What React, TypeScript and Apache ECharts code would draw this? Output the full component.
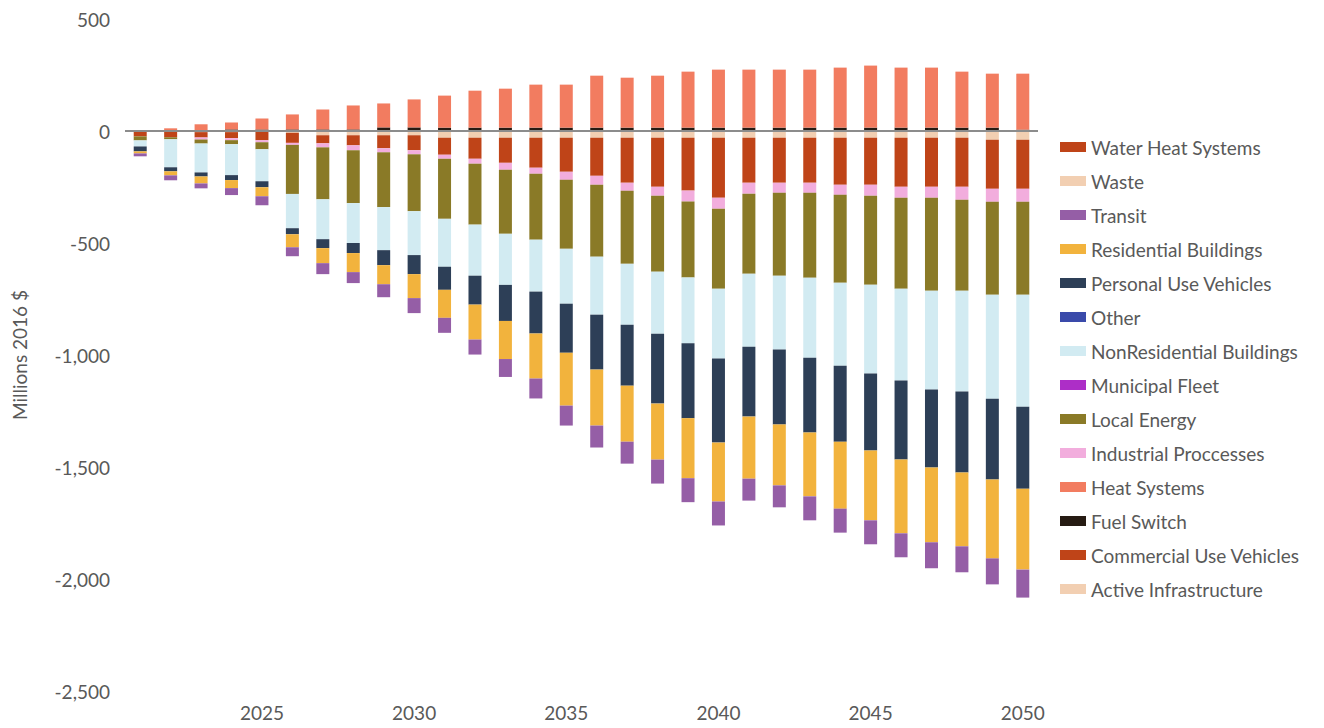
import React, { useEffect, useRef } from "react";
import * as echarts from "echarts";

const years = [
  "2021", "2022", "2023", "2024", "2025", "2026", "2027", "2028", "2029", "2030",
  "2031", "2032", "2033", "2034", "2035", "2036", "2037", "2038", "2039", "2040",
  "2041", "2042", "2043", "2044", "2045", "2046", "2047", "2048", "2049", "2050",
];

const activeInfrastructure = [0, 0, -5, -5, -5, -8, -19, -19, -19, -19, -30, -30, -30, -30, -30, -30, -30, -30, -30, -30, -30, -30, -30, -30, -30, -30, -30, -30, -39, -39];
const commercialUseVehicles = [-24, -28, -24, -27, -36, -45, -36, -45, -58, -67, -76, -94, -112, -134, -152, -170, -201, -219, -236, -268, -201, -201, -201, -210, -210, -219, -219, -219, -219, -219];
const fuelSwitch = [0, 0, 0, 7, 7, 7, 7, 7, 16, 16, 15, 15, 15, 15, 15, 15, 15, 15, 15, 15, 15, 15, 15, 15, 15, 15, 15, 15, 15, 6];
const heatSystems = [0, 12, 30, 31, 49, 67, 89, 107, 107, 125, 143, 165, 174, 192, 192, 232, 223, 232, 250, 259, 259, 259, 259, 268, 277, 268, 268, 250, 241, 250];
const industrialProcesses = [0, 0, -9, -9, -9, -9, -18, -22, -18, -18, -18, -22, -31, -27, -36, -40, -36, -40, -49, -49, -49, -45, -45, -45, -49, -49, -49, -58, -58, -58];
const localEnergy = [-18, -9, -18, -18, -31, -219, -232, -236, -245, -254, -268, -272, -286, -294, -308, -321, -326, -339, -339, -357, -357, -370, -379, -393, -397, -406, -415, -406, -415, -415];
const municipalFleet = [0, 0, 0, 0, 0, 0, 0, 0, 0, 0, 0, 0, 0, 0, 0, 0, 0, 0, 0, 0, 0, 0, 0, 0, 0, 0, 0, 0, 0, 0];
const nonResidentialBuildings = [-27, -125, -129, -138, -143, -153, -178, -178, -192, -196, -214, -228, -228, -232, -245, -259, -272, -277, -294, -312, -326, -330, -357, -370, -397, -410, -441, -450, -464, -500];
const other = [0, 0, 0, 0, 0, 0, 0, 0, 0, 0, 0, 0, 0, 0, 0, 0, 0, 0, 0, 0, 0, 0, 0, 0, 0, 0, 0, 0, 0, 0];
const personalUseVehicles = [-22, -18, -18, -22, -27, -27, -40, -45, -67, -85, -103, -129, -161, -187, -219, -245, -272, -312, -334, -375, -312, -334, -334, -339, -343, -352, -348, -361, -361, -366];
const residentialBuildings = [-9, -18, -31, -36, -40, -58, -67, -85, -85, -107, -125, -156, -170, -201, -236, -250, -250, -250, -268, -263, -277, -272, -285, -299, -312, -330, -334, -330, -352, -361];
const transit = [-13, -22, -22, -31, -40, -40, -49, -49, -58, -67, -67, -67, -80, -89, -89, -98, -98, -107, -107, -107, -98, -98, -107, -107, -107, -107, -116, -116, -116, -125];
const waste = [0, 0, 0, 0, 0, 0, 0, 0, 0, 0, 0, 0, 0, 0, 0, 0, 0, 0, 0, 0, 0, 0, 0, 0, 0, 0, 0, 0, 0, 0];
const waterHeatSystems = [0, 0, 0, 0, 0, 0, 0, 0, 0, 0, 0, 0, 0, 0, 0, 0, 0, 0, 0, 0, 0, 0, 0, 0, 0, 0, 0, 0, 0, 0];

const seriesNames = [
  "Active Infrastructure",
  "Commercial Use Vehicles",
  "Fuel Switch",
  "Heat Systems",
  "Industrial Proccesses",
  "Local Energy",
  "Municipal Fleet",
  "NonResidential Buildings",
  "Other",
  "Personal Use Vehicles",
  "Residential Buildings",
  "Transit",
  "Waste",
  "Water Heat Systems",
];

const seriesData = [
  activeInfrastructure,
  commercialUseVehicles,
  fuelSwitch,
  heatSystems,
  industrialProcesses,
  localEnergy,
  municipalFleet,
  nonResidentialBuildings,
  other,
  personalUseVehicles,
  residentialBuildings,
  transit,
  waste,
  waterHeatSystems,
];

const seriesColors = [
  "#F2CFB2",
  "#BF4418",
  "#261B13",
  "#F27C60",
  "#F2ADDD",
  "#8A7A27",
  "#AD2EC7",
  "#D2EBF2",
  "#3A4AAA",
  "#2D3F57",
  "#F2B33D",
  "#955EA6",
  "#F2CFB2",
  "#BF4418",
];

const yTicks = { min: -2500, max: 500, interval: 500 };

export default function App() {
  const ref = useRef<HTMLDivElement>(null);

  useEffect(() => {
    if (!ref.current) return;
    const chart = echarts.init(ref.current, undefined, { renderer: "svg" });
    const font = "Lato, 'Open Sans', sans-serif";
    const textColor = "#595959";

    const series: any[] = seriesNames.map((name, i) => ({
      name,
      type: "bar",
      stack: "total",
      barWidth: 13,
      data: seriesData[i],
      itemStyle: { color: seriesColors[i] },
      emphasis: { disabled: true },
    }));
    series[0].markLine = {
      silent: true,
      symbol: ["none", "none"],
      label: { show: false },
      lineStyle: { color: "#8c8c8c", width: 2, type: "solid" },
      data: [{ yAxis: 0 }],
    };

    chart.setOption({
      animation: false,
      backgroundColor: "#ffffff",
      grid: { left: 125, right: 286, top: 19, bottom: 37, containLabel: false },
      legend: {
        orient: "vertical",
        left: 1060,
        top: 137,
        padding: 0,
        itemWidth: 26,
        itemHeight: 10,
        itemGap: 14,
        icon: "rect",
        selectedMode: false,
        data: [...seriesNames].reverse(),
        textStyle: { fontSize: 19, color: textColor, fontFamily: font, lineHeight: 20 },
      },
      xAxis: {
        type: "category",
        data: years,
        axisLine: { show: false, onZero: false },
        axisTick: { show: false },
        splitLine: { show: false },
        axisLabel: {
          interval: (_idx: number, value: string) => Number(value) % 5 === 0,
          fontSize: 19,
          color: textColor,
          fontFamily: font,
          margin: 12,
        },
      },
      yAxis: {
        type: "value",
        min: yTicks.min,
        max: yTicks.max,
        interval: yTicks.interval,
        name: "Millions 2016 $",
        nameLocation: "middle",
        nameGap: 96,
        nameRotate: 90,
        nameTextStyle: { fontSize: 19, color: textColor, fontFamily: font },
        axisLine: { show: false },
        axisTick: { show: false },
        splitLine: { show: false },
        axisLabel: {
          fontSize: 19,
          color: textColor,
          fontFamily: font,
          margin: 15,
          formatter: (v: number) => v.toLocaleString("en-US"),
        },
      },
      series,
    });

    return () => chart.dispose();
  }, []);

  return (
    <div
      ref={ref}
      style={{ position: "fixed", left: 0, top: 0, width: 1324, height: 728, background: "#fff" }}
    />
  );
}
